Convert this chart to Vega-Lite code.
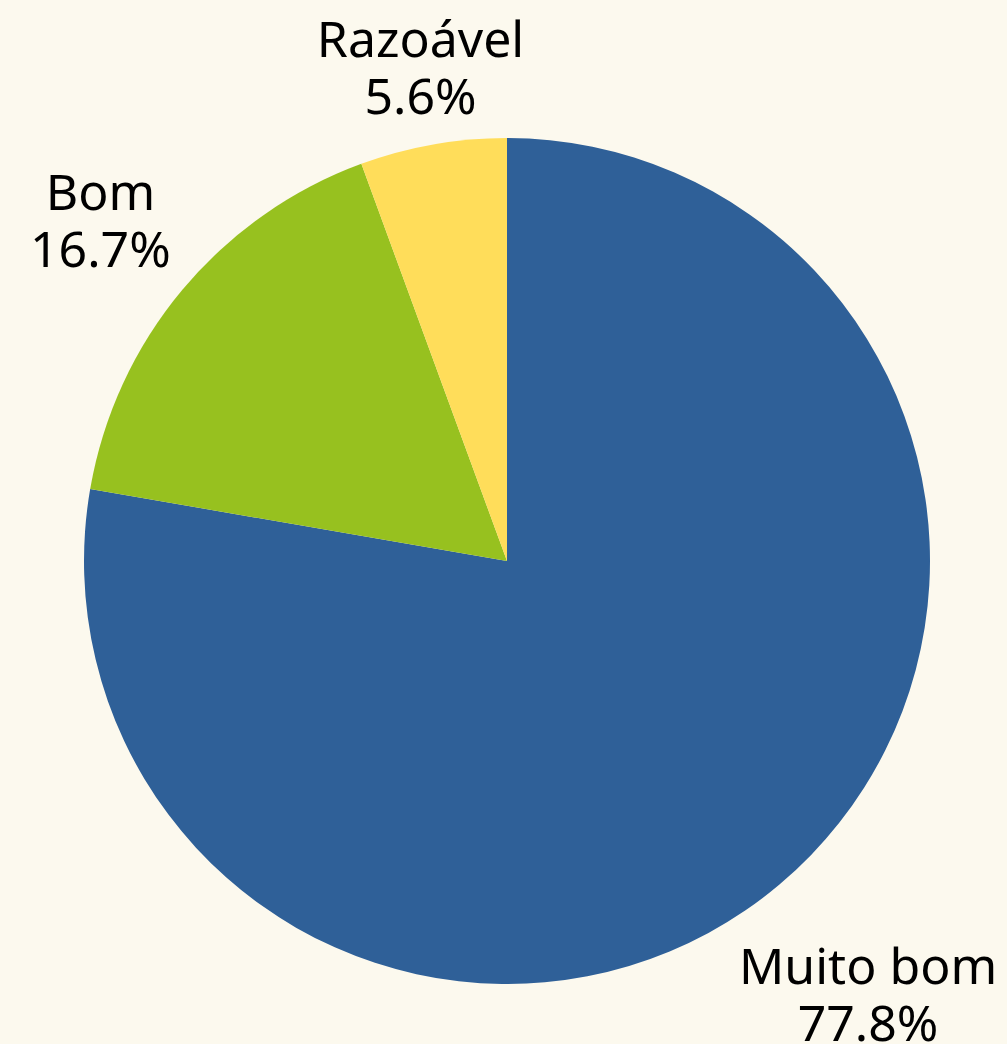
{
  "$schema": "https://vega.github.io/schema/vega-lite/v6.json",
  "width": 1000,
  "height": 966,
  "autosize": {"type": "none"},
  "padding": {"left": 7, "top": 78, "right": 0, "bottom": 0},
  "background": "#fcf9ee",
  "view": {"stroke": null},
  "data": {
    "values": [
      {"cat": "Muito bom", "value": 77.8, "rank": 1, "label": "Muito bom\n77.8%"},
      {"cat": "Bom", "value": 16.7, "rank": 2, "label": "Bom\n16.7%"},
      {"cat": "Razoável", "value": 5.6, "rank": 3, "label": "Razoável\n5.6%"}
    ]
  },
  "encoding": {
    "theta": {"field": "value", "type": "quantitative", "stack": true},
    "order": {"field": "rank", "type": "quantitative"}
  },
  "layer": [
    {
      "mark": {"type": "arc", "outerRadius": 423},
      "encoding": {
        "color": {
          "field": "cat",
          "type": "nominal",
          "scale": {"domain": ["Muito bom", "Bom", "Razoável"], "range": ["#2f6098", "#97c11f", "#ffdd5a"]},
          "legend": null
        }
      }
    },
    {
      "mark": {"type": "text", "radius": 545, "dx": 10, "dy": -9, "fontSize": 50, "font": "Noto Sans", "lineBreak": "\n", "lineHeight": 57, "color": "#000000", "align": "center", "baseline": "middle"},
      "encoding": {
        "detail": {"field": "cat", "type": "nominal"},
        "text": {"condition": {"test": "datum.cat === 'Muito bom'", "field": "label"}, "value": ""}
      }
    },
    {
      "mark": {"type": "text", "radius": 549, "dx": 15, "dy": -14, "fontSize": 50, "font": "Noto Sans", "lineBreak": "\n", "lineHeight": 57, "color": "#000000", "align": "center", "baseline": "middle"},
      "encoding": {
        "detail": {"field": "cat", "type": "nominal"},
        "text": {"condition": {"test": "datum.cat === 'Bom'", "field": "label"}, "value": ""}
      }
    },
    {
      "mark": {"type": "text", "radius": 529, "dx": 6, "dy": 2, "fontSize": 50, "font": "Noto Sans", "lineBreak": "\n", "lineHeight": 57, "color": "#000000", "align": "center", "baseline": "middle"},
      "encoding": {
        "detail": {"field": "cat", "type": "nominal"},
        "text": {"condition": {"test": "datum.cat === 'Razoável'", "field": "label"}, "value": ""}
      }
    }
  ]
}
